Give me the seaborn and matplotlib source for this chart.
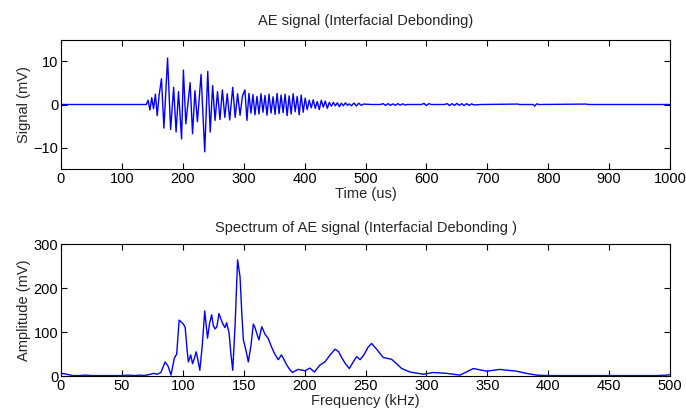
import numpy as np
import seaborn as sns
import matplotlib
import matplotlib.pyplot as plt

matplotlib.use("Agg")

# --- AE signal ---
# burst onset, explicit times (us) and values (mV)
burst_t = [0, 138, 140, 143, 146, 149, 152, 155, 158, 161, 165, 169, 175, 180,
           185, 189, 193, 198, 201, 205, 212, 216, 220, 224, 230, 236, 241, 245,
           249, 253, 257, 261, 265, 269, 273, 277, 282, 286, 290, 294, 298]
burst_v = [0, 0, 0, 1.0, -1.3, 1.6, -1.0, 2.4, -2.6, 2.0, 6.0, -5.5, 10.8, -5.8,
           4.0, -6.4, 3.0, -8.0, 8.0, -4.5, 5.1, -6.8, 3.2, -4.0, 7.0, -11.0, 7.7, -6.4,
           4.4, -3.7, 3.0, -3.5, 3.4, -3.0, 2.5, -3.6, 4.0, -3.0, 2.5, -2.5, 2.0]

# decaying part, sampled every ~3.3 us from 302 us
decay_start = 302
decay_step = 3.3
decay_v = [3.4, -3.7, 2.6, -2.0, 2.3, -2.4, 1.9, -2.2, 2.5, -1.8, 2.1, -2.5, 2.4,
           -2.0, 1.8, -2.3, 2.6, -2.1, 2.2, -1.9, 2.4, -2.6, 2.0, -2.2, 2.5, -1.7,
           1.9, -2.4, 2.2, -1.8, 1.5, -1.2, 1.0, -0.8, 1.1, -0.9, 0.7, -1.2, 1.0,
           -0.6, 0.8, -0.9, 0.5, -0.4, 0.5, -0.3, 0.4, -0.5, 0.3, -0.3, 0.4, -0.2]

# small ripples in the tail
tail_t = [473, 477, 481, 485, 489, 493, 497, 510, 525, 529, 533, 537, 541, 545,
          549, 553, 557, 561, 565, 569, 580, 592, 596, 600, 604, 608, 620, 630,
          634, 638, 642, 646, 650, 654, 658, 662, 666, 670, 674, 678, 690,
          750, 753, 775, 778, 781, 785, 862, 866, 1000]
tail_v = [0.15, -0.3, 0.35, -0.35, 0.3, -0.2, 0.1, 0, 0, 0.2, -0.2, 0.2, -0.2, 0.15,
          -0.2, 0.2, -0.15, 0.15, -0.1, 0, 0, 0, 0.25, -0.25, 0.2, 0, 0, 0,
          0.2, -0.25, 0.2, -0.2, 0.25, -0.2, 0.2, -0.25, 0.2, -0.2, 0.15, -0.1, 0,
          0.1, 0, 0, -0.35, 0.15, 0, 0.1, 0, 0]

# --- spectrum (kHz, mV) ---
freq = [0, 3, 6, 10, 15, 20, 25, 30, 35, 40, 45, 50, 55, 60, 65, 68, 72, 76, 79, 82,
        85.5, 88, 90.3, 93, 95, 97, 99, 100.5, 102, 103.5, 104.6, 106.5, 108, 109.5,
        111, 112.5, 114, 116, 118, 120.3, 122, 123.7, 125, 126.5, 128, 129.7, 131.5,
        133, 134.6, 136, 138, 139.5, 141, 143, 145, 147, 148.5, 149.7, 151, 152.5,
        153.8, 156, 157.9, 159.3, 160.6, 162.5, 164.8, 167.5, 170.2, 173, 175.5,
        178.4, 181, 183, 185.3, 188, 190, 194.6, 200.3, 204.4, 208, 212.6, 216.7,
        221, 225, 228, 230.4, 233.5, 236.7, 239.5, 242.7, 245.5, 248.7, 252, 255,
        259.1, 264.6, 271.4, 275.5, 279.7, 286.6, 297.5, 305.7, 316.7, 327.6, 332,
        338.5, 344, 349.5, 355, 360, 367, 374, 382, 390.5, 400, 409.6, 426, 450, 475,
        490, 497, 500]
amp = [6, 5, 3, 1, 1, 2, 1, 1, 1, 1, 1, 1, 2, 1, 2, 1, 3, 6, 4, 8,
       32, 22, 2, 40, 50, 127, 122, 118, 110, 60, 32, 48, 28, 40,
       55, 35, 13, 70, 148, 86, 120, 139, 115, 107, 112, 142, 128,
       118, 110, 121, 98, 50, 13, 120, 264, 225, 140, 83, 68, 50,
       32, 70, 118, 110, 98, 82, 112, 95, 85, 65, 50,
       37, 48, 38, 25, 14, 8, 15, 12, 18, 9, 25, 32,
       48, 61, 55, 42, 28, 17, 30, 44, 37, 48, 65, 74,
       61, 42, 38, 28, 17, 9, 4, 8, 6, 2, 8,
       17, 14, 11, 13, 15, 13, 11, 6, 2, 1, 1, 1, 1, 1,
       1, 2, 3]

sig_t = np.concatenate([burst_t, decay_start + decay_step * np.arange(len(decay_v)), tail_t])
sig_v = np.concatenate([burst_v, decay_v, tail_v])

sns.set_style("ticks")
plt.rcParams["font.family"] = ["Liberation Sans", "DejaVu Sans"]
plt.rcParams.update({
    "font.size": 10.5,
    "xtick.direction": "in",
    "ytick.direction": "in",
    "xtick.top": True,
    "ytick.right": True,
    "xtick.major.size": 4,
    "ytick.major.size": 4,
    "axes.linewidth": 0.8,
    "axes.edgecolor": "black",
})

fig = plt.figure(figsize=(6.86, 4.17), dpi=100)
ax1 = fig.add_axes([0.0889, 0.5947, 0.8878, 0.3094])
ax2 = fig.add_axes([0.0889, 0.0983, 0.8878, 0.3165])

sns.lineplot(x=sig_t, y=sig_v, ax=ax1, color="blue", lw=1, estimator=None, sort=False)
ax1.set_xlim(0, 1000)
ax1.set_ylim(-15, 15)
ax1.set_xticks(np.arange(0, 1001, 100))
ax1.set_yticks([-10, 0, 10])
ax1.set_xlabel("Time (us)", labelpad=1)
ax1.set_ylabel("Signal (mV)", labelpad=2)
ax1.set_title("AE signal (Interfacial Debonding)", fontsize=10.5, pad=11)

sns.lineplot(x=freq, y=amp, ax=ax2, color="blue", lw=1, estimator=None, sort=False)
ax2.set_xlim(0, 500)
ax2.set_ylim(0, 300)
ax2.set_xticks(np.arange(0, 501, 50))
ax2.set_yticks([0, 100, 200, 300])
ax2.set_xlabel("Frequency (kHz)", labelpad=1)
ax2.set_ylabel("Amplitude (mV)", labelpad=2)
ax2.set_title("Spectrum of AE signal (Interfacial Debonding )", fontsize=10.5, pad=9)

for ax in (ax1, ax2):
    for s in ax.spines.values():
        s.set_visible(True)
    ax.tick_params(colors="black", pad=2)

fig.savefig("out.png", dpi=100, facecolor="white")
